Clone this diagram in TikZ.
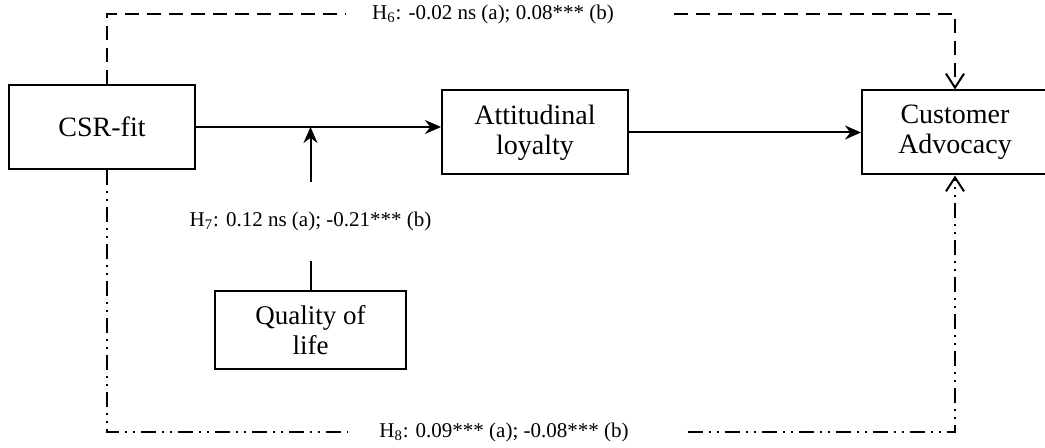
\documentclass[tikz,border=0pt]{standalone}
\usepackage{fontspec}
\setmainfont{Liberation Serif}
\usepackage{tikz}
\usetikzlibrary{arrows.meta}
\usetikzlibrary{positioning}

\begin{document}
\begin{tikzpicture}[x=0.5pt,y=-0.5pt,>={Stealth[length=8pt,width=7pt]},line width=1pt,node distance=1.5cm]
						\tikzstyle{cons}=[draw, rectangle, line width=1pt, align=center, minimum width=93pt, minimum height=42pt, inner sep=2pt, font=\fontsize{14}{15}\selectfont]
						\tikzstyle{lbl}=[inner ysep=2pt, font=\fontsize{10.5}{12}\selectfont]
						\tikzstyle{dsh}=[line width=1pt, dash pattern=on 7pt off 4pt]
						\tikzstyle{dshdot}=[line width=1pt, dash pattern=on 7.5pt off 3pt on 1pt off 3pt on 1pt off 3pt]
						\tikzstyle{open}=[-{Straight Barb[length=7pt,width=9pt]}]
						\useasboundingbox (0,0) rectangle (1045,448);

						\node[cons] 			(csr) at (102,127)          		{CSR-fit};
 					 	\node[cons] 			(att) [right=122.5pt of csr, yshift=-2.75pt]	{Attitudinal\\loyalty};
						\node[cons] 			(adv) [right=116pt of att]           	{Customer\\Advocacy};
						\node[cons, minimum width=95.5pt, minimum height=39pt, font=\fontsize{13.5}{15}\selectfont]
										(qol) [below right=60pt and 9pt of csr]	{Quality of\\life};
						\node[lbl, minimum height=38.5pt] 	(h7) [above=14.5pt of qol]    	{H\textsubscript{7}: 0.12 ns (a); -0.21*** (b)};
						\node[lbl, inner xsep=12.5pt] 	(h6) at (493,14)             	{H\textsubscript{6}: -0.02 ns (a); 0.08*** (b)};
						\node[lbl, inner xsep=15pt] 	(h8) at (504,432)            	{H\textsubscript{8}: 0.09*** (a); -0.08*** (b)};
						\coordinate (mod) at (h7.north |- csr.east);

						% direct paths
						\draw[->] (csr.east) -- (csr.east -| att.west);
						\draw[->] (att.east |- adv.west) -- (adv.west);
						% moderator
						\draw (qol) -- (h7);
						\draw[->] (h7) -- (mod);
						% direct and indirect effects
						\draw[dsh] ([xshift=2.5pt]csr.north) |- (h6.west);
						\draw[dsh, open, shorten <=17pt] (h6.east) -| (adv.north);
						\draw[dshdot] ([xshift=2.5pt]csr.south) |- (h8.west);
						\draw[dshdot, open, shorten <=14pt] (h8.east) -| (adv.south);

				\end{tikzpicture}
\end{document}
